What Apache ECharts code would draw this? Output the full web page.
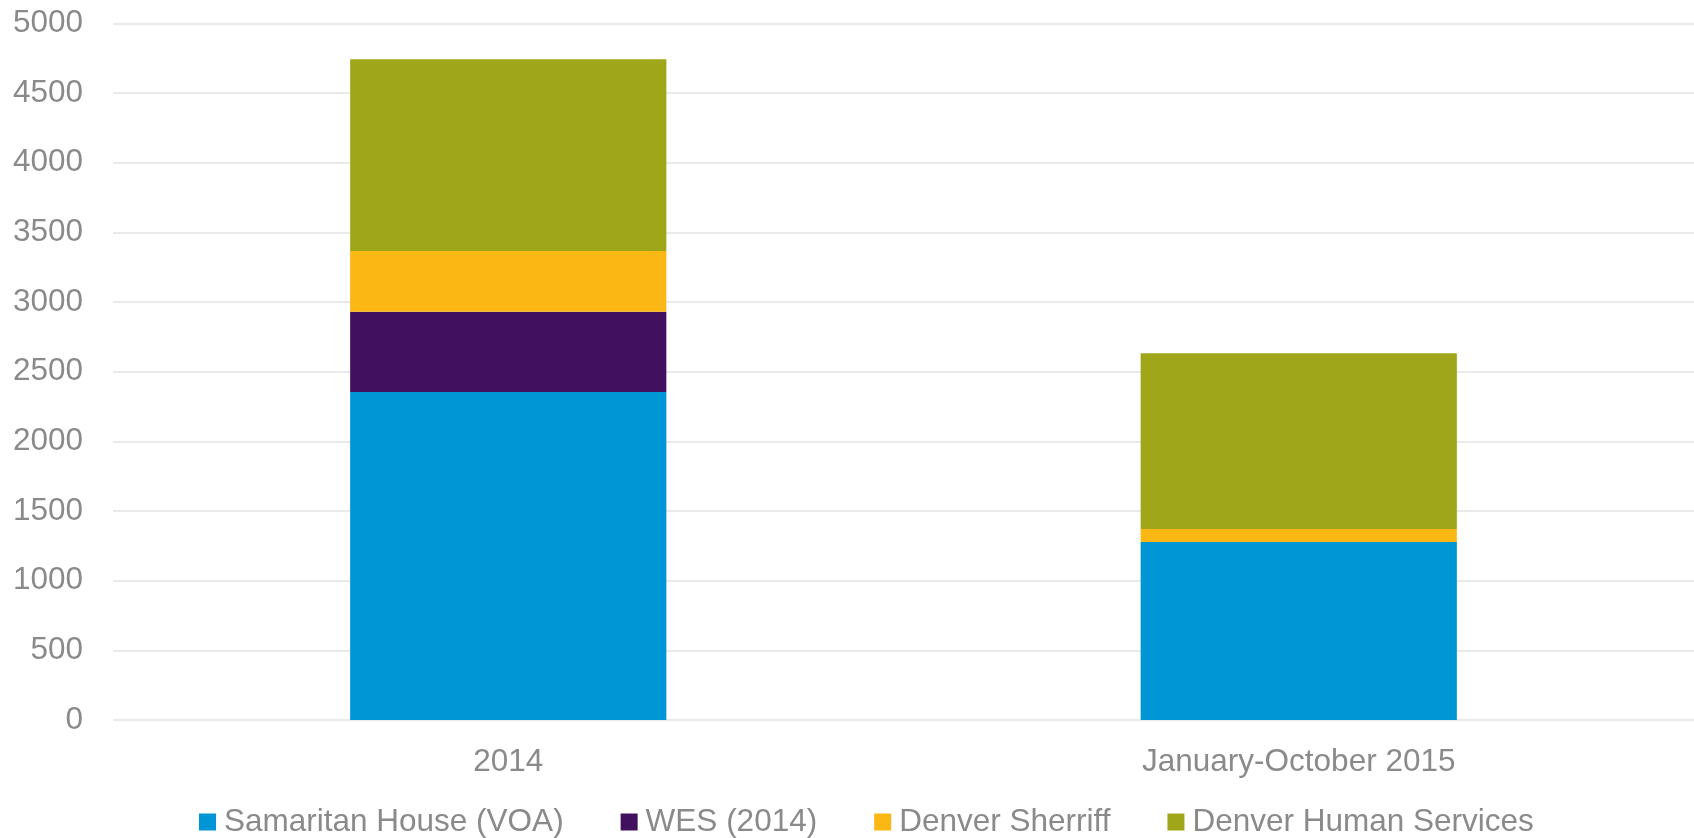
<!DOCTYPE html>
<html lang="en">
<head>
  <meta charset="UTF-8">
  <title>Stacked bar chart</title>
  <script src="https://cdn.jsdelivr.net/npm/echarts@6/dist/echarts.min.js"></script>
  <style>
    body { margin: 0; padding: 0; background: #fff; }
    #chart { width: 1694px; height: 838px; }
  </style>
</head>
<body>
  <div id="chart"></div>
  <script>
    // categories and series values
    const periods = ['2014', 'January-October 2015'];
    const samaritanHouse = [2355, 1278];
    const wes2014 = [576, 0];
    const denverSheriff = [436, 93];
    const denverHumanServices = [1376, 1261];
    const yTicks = [0, 500, 1000, 1500, 2000, 2500, 3000, 3500, 4000, 4500, 5000];

    const textColor = '#8a8a8a';
    const font = 'Liberation Sans, Arial, sans-serif';
    const fontSize = 31.5;

    const chart = echarts.init(document.getElementById('chart'));

    function barSeries(name, data, color) {
      return {
        name: name,
        type: 'bar',
        stack: 'total',
        barWidth: '40%',
        data: data,
        itemStyle: { color: color },
        emphasis: { disabled: true }
      };
    }

    const option = {
      animation: false,
      textStyle: { fontFamily: font },
      grid: {
        left: 113,
        right: 0,
        top: 23.5,
        bottom: 118
      },
      legend: {
        top: 801,
        left: 194,
        itemWidth: 17,
        itemHeight: 17,
        itemGap: 57,
        icon: 'rect',
        textStyle: { color: textColor, fontSize: fontSize, fontFamily: font, padding: [0, 0, 0, 3] },
        data: ['Samaritan House (VOA)', 'WES (2014)', 'Denver Sherriff', 'Denver Human Services']
      },
      xAxis: {
        type: 'category',
        data: periods,
        axisLine: { show: false },
        axisTick: { show: false },
        axisLabel: { color: textColor, fontSize: fontSize, margin: 26 }
      },
      yAxis: {
        type: 'value',
        min: yTicks[0],
        max: yTicks[yTicks.length - 1],
        interval: yTicks[1] - yTicks[0],
        axisLine: { show: false },
        axisTick: { show: false },
        axisLabel: {
          color: textColor,
          fontSize: fontSize,
          margin: 30,
          formatter: function (v) { return String(v); }
        },
        splitLine: { lineStyle: { color: '#e2e2e2', width: 1.5 } }
      },
      series: [
        barSeries('Samaritan House (VOA)', samaritanHouse, '#0096d6'),
        barSeries('WES (2014)', wes2014, '#41105e'),
        barSeries('Denver Sherriff', denverSheriff, '#fbb713'),
        barSeries('Denver Human Services', denverHumanServices, '#a0a619')
      ]
    };

    chart.setOption(option);
  </script>
</body>
</html>
